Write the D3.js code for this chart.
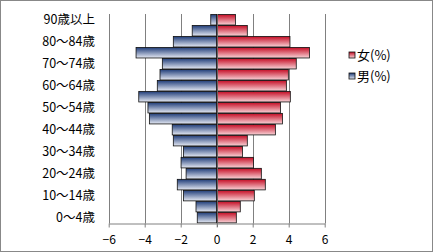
<!DOCTYPE html>
<html>
<head>
<meta charset="utf-8">
<script src="https://cdn.jsdelivr.net/npm/d3@7"></script>
<style>
  body { margin: 0; background: #fff; }
  text { font-family: "Noto Sans CJK JP", "Noto Sans", sans-serif; fill: #000; }
</style>
</head>
<body>
<svg id="chart" width="433" height="252"></svg>
<script>
// age groups, bottom to top
const ages = ["0〜4歳", "5〜9歳", "10〜14歳", "15〜19歳", "20〜24歳", "25〜29歳", "30〜34歳",
  "35〜39歳", "40〜44歳", "45〜49歳", "50〜54歳", "55〜59歳", "60〜64歳", "65〜69歳",
  "70〜74歳", "75〜79歳", "80〜84歳", "85〜89歳", "90歳以上"];
const male = [-1.08, -1.15, -1.85, -2.19, -1.70, -1.98, -1.85, -2.41, -2.47, -3.74,
  -3.82, -4.33, -3.30, -3.15, -3.02, -4.48, -2.41, -1.36, -0.33];
const female = [1.09, 1.31, 2.09, 2.70, 2.48, 2.04, 1.43, 1.70, 3.26, 3.65,
  3.54, 4.09, 3.87, 3.98, 4.42, 5.15, 4.07, 1.70, 1.04];
const xTicks = [-6, -4, -2, 0, 2, 4, 6];
const seriesNames = ["女(%)", "男(%)"];

const svg = d3.select("#chart");

svg.append("rect")
  .attr("x", 0.5).attr("y", 0.5)
  .attr("width", 432).attr("height", 251)
  .attr("fill", "#fff").attr("stroke", "#888");

const defs = svg.append("defs");
function grad(id, top, bottom) {
  const g = defs.append("linearGradient").attr("id", id)
    .attr("x1", 0).attr("y1", 0).attr("x2", 0).attr("y2", 1);
  g.append("stop").attr("offset", "0%").attr("stop-color", top);
  g.append("stop").attr("offset", "100%").attr("stop-color", bottom);
}
grad("gBlue", "#1f3c78", "#e6eaf4");
grad("gRed", "#c40c24", "#f9d4d8");

const x = d3.scaleLinear().domain([-6, 6]).range([108.7, 324.7]);
const y = d3.scaleBand().domain(ages).range([223.3, 14]).paddingInner(0.04).paddingOuter(0.04);

// gridlines
svg.append("g")
  .selectAll("line")
  .data(xTicks.filter(d => d !== 0))
  .enter()
  .append("line")
  .attr("x1", d => Math.round(x(d)) + 0.5)
  .attr("x2", d => Math.round(x(d)) + 0.5)
  .attr("y1", 14).attr("y2", 223.5)
  .attr("stroke", "#808080");

// bars
const data = ages.map((a, i) => ({ age: a, m: male[i], f: female[i] }));
const bars = svg.append("g");
bars.selectAll(".male")
  .data(data)
  .enter()
  .append("rect")
  .attr("class", "male")
  .attr("x", d => x(d.m))
  .attr("y", d => y(d.age))
  .attr("width", d => x(0) - x(d.m))
  .attr("height", y.bandwidth())
  .attr("fill", "url(#gBlue)")
  .attr("stroke", "#111")
  .attr("stroke-width", 0.8);
bars.selectAll(".female")
  .data(data)
  .enter()
  .append("rect")
  .attr("class", "female")
  .attr("x", x(0))
  .attr("y", d => y(d.age))
  .attr("width", d => x(d.f) - x(0))
  .attr("height", y.bandwidth())
  .attr("fill", "url(#gRed)")
  .attr("stroke", "#111")
  .attr("stroke-width", 0.8);

// zero line
svg.append("line")
  .attr("x1", Math.round(x(0)) + 0.5).attr("x2", Math.round(x(0)) + 0.5)
  .attr("y1", 14).attr("y2", 227)
  .attr("stroke", "#666");

// x axis
const xAxis = svg.append("g")
  .attr("transform", "translate(0,223.5)")
  .call(d3.axisBottom(x).tickValues(xTicks).tickSize(4).tickSizeOuter(0).tickFormat(d3.format("d")));
xAxis.select(".domain").attr("stroke", "#808080");
xAxis.selectAll(".tick line").attr("stroke", "#808080");
xAxis.selectAll("text")
  .attr("y", 12)
  .style("font-size", "12px")
  .style("font-family", "\"Noto Sans CJK JP\", sans-serif")
  .attr("fill", "#000");

// category labels (every other)
svg.append("g")
  .selectAll("text")
  .data(ages.filter((a, i) => i % 2 === 0))
  .enter()
  .append("text")
  .attr("x", 95)
  .attr("y", d => y(d) + y.bandwidth() / 2)
  .attr("dy", "0.36em")
  .attr("text-anchor", "end")
  .style("font-size", "12.5px")
  .text(d => d);

// legend
const legend = svg.append("g")
  .selectAll("g")
  .data(seriesNames)
  .enter()
  .append("g")
  .attr("transform", (d, i) => `translate(349,${52 + i * 21})`);
legend.append("rect")
  .attr("x", 0).attr("y", 0)
  .attr("width", 6).attr("height", 6)
  .attr("fill", (d, i) => i === 0 ? "url(#gRed)" : "url(#gBlue)")
  .attr("stroke", "#111")
  .attr("stroke-width", 0.8);
legend.append("text")
  .attr("x", 8)
  .attr("y", 3)
  .attr("dy", "0.36em")
  .style("font-size", "13px")
  .text(d => d);
</script>
</body>
</html>
